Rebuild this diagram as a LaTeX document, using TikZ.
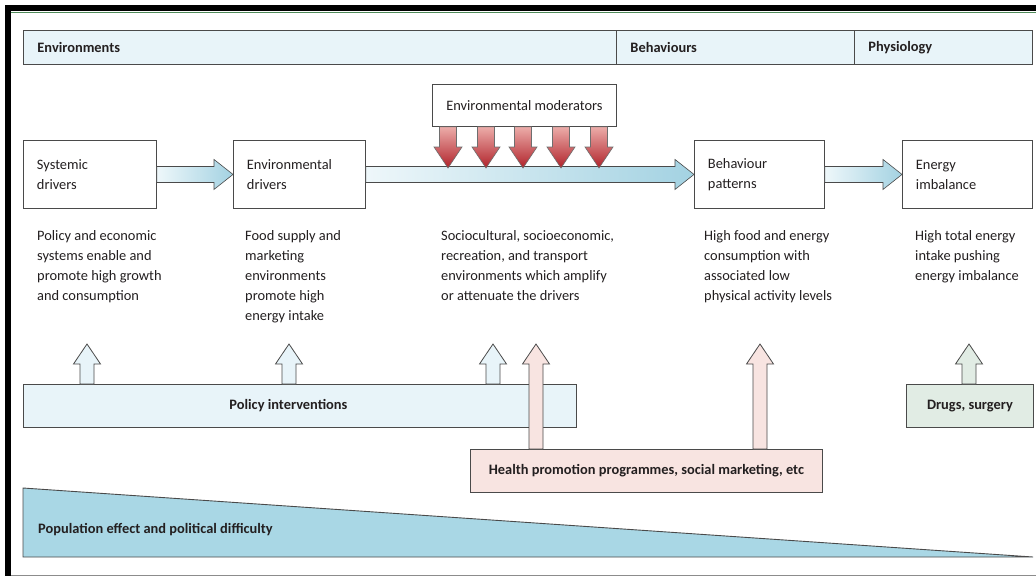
\documentclass[tikz,border=0pt]{standalone}
\usepackage{fontspec}
\setmainfont{Carlito}
\usetikzlibrary{calc}
\definecolor{hdrfill}{HTML}{E8F4F9}
\definecolor{boxline}{HTML}{4A4A4A}
\definecolor{txt}{HTML}{231F20}
\definecolor{arrlight}{HTML}{EEF7FA}
\definecolor{arrblue}{HTML}{A3D2E2}
\definecolor{redlight}{HTML}{ECACA9}
\definecolor{reddark}{HTML}{B0222A}
\definecolor{pinkfill}{HTML}{F8E4E1}
\definecolor{greenfill}{HTML}{E1ECE4}
\definecolor{trifill}{HTML}{A9D7E5}
\definecolor{frameline}{HTML}{4F8A5A}
\newcommand\harrow[3]{%
  \draw[#3] ($(#1)+(0,-8)$) -- ($(#2)+(-19,-8)$) -- ($(#2)+(-19,-15)$) -- (#2)
    -- ($(#2)+(-19,15)$) -- ($(#2)+(-19,8)$) -- ($(#1)+(0,8)$) -- cycle;}
\newcommand\uarrow[3]{%
  \draw[#3] ($(#1)+(-7,0)$) -- ($(#2)+(-7,20)$) -- ($(#2)+(-13.5,20)$) -- (#2)
    -- ($(#2)+(13.5,20)$) -- ($(#2)+(7,20)$) -- ($(#1)+(7,0)$) -- cycle;}
\newcommand\darrow[3]{%
  \draw[#3] ($(#1)+(-8.5,0)$) -- ($(#2)+(-8.5,-21)$) -- ($(#2)+(-14,-21)$) -- (#2)
    -- ($(#2)+(14,-21)$) -- ($(#2)+(8.5,-21)$) -- ($(#1)+(8.5,0)$) -- cycle;}
\begin{document}
\begin{tikzpicture}[x=1pt,y=-1pt,
  every node/.style={text=txt},
  fnt/.style={font=\fontsize{14.4}{20}\selectfont},
  bfnt/.style={font=\fontsize{14.4}{20}\selectfont\bfseries},
  hdrcell/.style={draw=boxline, line width=0.9pt, fill=hdrfill, anchor=north west,
    minimum height=34pt, inner xsep=14pt, inner ysep=0pt, align=left, bfnt},
  stagebox/.style={draw=boxline, line width=0.9pt, fill=white, anchor=north west,
    minimum height=68pt, inner xsep=13.5pt, inner ysep=0pt, align=left, fnt},
  desc/.style={anchor=north west, inner sep=0pt, align=left, fnt},
  ibox/.style={draw=boxline, line width=0.9pt, anchor=north west, minimum height=43pt,
    inner sep=0pt, bfnt},
  flowarrow/.style={draw=boxline, line width=0.6pt, left color=arrlight, right color=arrblue},
  redarrow/.style={draw=boxline!80, line width=0.6pt, top color=redlight, bottom color=reddark},
  bluearrow/.style={draw=boxline, line width=0.8pt, fill=hdrfill},
  pinkarrow/.style={draw=boxline, line width=0.8pt, fill=pinkfill},
  greenarrow/.style={draw=boxline, line width=0.8pt, fill=greenfill}
]
\useasboundingbox (0,0) rectangle (1036,576);
\fill[white] (0,0) rectangle (1036,576);
% frame
\fill[black] (5,5) rectangle (1036,11);
\fill[black] (5,5) rectangle (11,576);
\draw[frameline, line width=1pt] (11,12.5) -- (1036,12.5);
\draw[black!45, line width=1pt] (11,575) -- (1036,575);

% header
\node[hdrcell, text width=565pt] (envh) at (23,30) {Environments};
\node[hdrcell, text width=210pt] (behh) at (616,30) {Behaviours};
\node[hdrcell, text width=150pt] (phyh) at (854,30) {Physiology};

% stage boxes
\node[stagebox, text width=106pt] (sys) at (23,140) {Systemic\\drivers};
\node[stagebox, text width=105pt] (env) at (233,140) {Environmental\\drivers};
\node[stagebox, text width=103pt] (beh) at (694,140) {Behaviour\\patterns};
\node[stagebox, text width=103pt] (ene) at (902,140) {Energy\\imbalance};
\node[draw=boxline, line width=0.9pt, fill=white, anchor=north west, minimum width=184pt,
  minimum height=42pt, inner sep=0pt, fnt] (mod) at (432,84) {Environmental moderators};

% flow arrows
\harrow{sys.east}{env.west}{flowarrow}
\harrow{env.east}{beh.west}{flowarrow}
\harrow{beh.east}{ene.west}{flowarrow}

% moderator arrows
\foreach \i/\x in {1/448,2/486,3/523,4/561,5/599}{
  \coordinate (rt\i) at (\x,168);
  \coordinate (rb\i) at (rt\i |- mod.south);
  \darrow{rb\i}{rt\i}{redarrow}
}

% descriptions
\node[desc] (d1) at (37,230) {Policy and economic\\systems enable and\\promote high growth\\and consumption};
\node[desc] (d2) at (245,230) {Food supply and\\marketing\\environments\\promote high\\energy intake};
\node[desc] (d3) at (441,230) {Sociocultural, socioeconomic,\\recreation, and transport\\environments which amplify\\or attenuate the drivers};
\node[desc] (d4) at (704,230) {High food and energy\\consumption with\\associated low\\physical activity levels};
\node[desc] (d5) at (915,230) {High total energy\\intake pushing\\energy imbalance};

% policy interventions
\node[ibox, fill=hdrfill, minimum width=553pt] (pol) at (23,384) {\hspace*{-23pt}Policy interventions};
\foreach \i/\x in {1/87,2/289,3/493}{
  \coordinate (ut\i) at (\x,344);
  \coordinate (ub\i) at (ut\i |- pol.north);
  \uarrow{ub\i}{ut\i}{bluearrow}
}

% health promotion
\node[ibox, fill=pinkfill, minimum width=352pt] (hp) at (470,449) {Health promotion programmes, social marketing, etc};
\foreach \i/\x in {1/536,2/760}{
  \coordinate (pt\i) at (\x,344);
  \coordinate (pb\i) at (pt\i |- hp.north);
  \uarrow{pb\i}{pt\i}{pinkarrow}
}

% drugs
\node[ibox, fill=greenfill, minimum width=127pt] (drg) at (906,384) {Drugs, surgery};
\coordinate (gt) at (969,344);
\coordinate (gb) at (gt |- drg.north);
\uarrow{gb}{gt}{greenarrow}

% population triangle
\draw[fill=trifill, draw=boxline, line width=0.9pt] (23,488) -- (1033,557) -- (23,557) -- cycle;
\node[anchor=west, inner sep=0pt, bfnt] (popl) at (38,530) {Population effect and political difficulty};
\end{tikzpicture}
\end{document}
